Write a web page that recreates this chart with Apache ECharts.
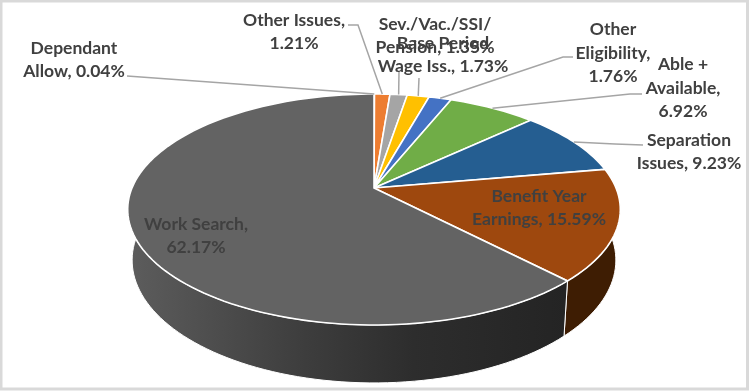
<!DOCTYPE html>
<html>
<head>
<meta charset="utf-8">
<style>
  html, body { margin: 0; padding: 0; background: #fff; }
  #chart { width: 749px; height: 391px; }
</style>
<script src="https://cdn.jsdelivr.net/npm/echarts@6/dist/echarts.min.js"></script>
</head>
<body>
<div id="chart"></div>
<script>
// chart values, clockwise from 12 o'clock
const categories = ["Dependant Allow", "Other Issues", "Sev./Vac./SSI/Pension", "Base Period Wage Iss.", "Other Eligibility", "Able + Available", "Separation Issues", "Benefit Year Earnings", "Work Search"];
const shares = [0.04, 1.21, 1.35, 1.73, 1.76, 6.92, 9.23, 15.59, 62.17];
const labelTexts = [
  "Dependant\nAllow, 0.04%",
  "Other Issues,\n1.21%",
  "Sev./Vac./SSI/\nPension, 1.35%",
  "Base Period\nWage Iss., 1.73%",
  "Other\nEligibility,\n1.76%",
  "Able +\nAvailable,\n6.92%",
  "Separation\nIssues, 9.23%",
  "Benefit Year\nEarnings, 15.59%",
  "Work Search,\n62.17%",
];

// slice colours
const topColors = ["#5b9bd5", "#ed7d31", "#a5a5a5", "#ffc000", "#4472c4", "#70ad47", "#255e91", "#9e480e", "#636363"];
const wallColors = ["#2a4a68", "#76401a", "#535353", "#806000", "#223962", "#385723", "#132f49", "#3e1d03", "#333333"];

// label centres and the elbow of each leader line (none for labels on the pie)
const labelBoxes = [
  { x: 74, y: 60, from: [127, 76] },
  { x: 294, y: 32, from: [348, 25], elbow: [358, 25] },
  { x: 435, y: 36, from: [399, 72] },
  { x: 443, y: 55, from: [419, 78] },
  { x: 613, y: 53, from: [573, 57], elbow: [563, 57] },
  { x: 683, y: 88, from: [642, 94], elbow: [630, 94] },
  { x: 689, y: 152, from: [643, 145], elbow: [615, 144] },
  { x: 539, y: 208 },
  { x: 196, y: 236 },
];

// tilted disc: the polar scale gives a flat circle, this projects it
const centerX = 374;
const centerY = 188;
const radius = 242;
const persp = 0.186;
const tiltY = 111.5;
const baseScaleX = 0.982;
const baseScaleY = 1.063;
const baseCenterY = 237.3;

function project(p, onBase) {
  const u = (p[0] - centerX) / radius;
  const v = (p[1] - centerY) / radius;
  const w = 1 - persp * v;
  if (onBase) {
    return [centerX + baseScaleX * radius * (u / w), baseCenterY + baseScaleY * tiltY * (v / w)];
  }
  return [centerX + radius * (u / w), centerY + tiltY * (v / w)];
}

function arc(api, start, end, onBase) {
  const steps = Math.max(2, Math.ceil((end - start) * 2));
  const pts = [];
  for (let i = 0; i <= steps; i++) {
    const a = start + ((end - start) * i) / steps;
    pts.push(project(api.coord([1, a]), onBase));
  }
  return pts;
}

let sum = 0;
const sliceData = shares.map((v, i) => {
  const row = [1, sum, v, i];
  sum += v;
  return row;
});

const wallGradient = new echarts.graphic.LinearGradient(
  132, 0, 566, 0,
  [
    { offset: 0, color: "#5c5c5c" },
    { offset: 0.4, color: "#3d3d3d" },
    { offset: 0.65, color: "#2d2d2d" },
    { offset: 1, color: "#242424" },
  ],
  true
);

const renderWall = (params, api) => {
  const start = api.value(1);
  const end = start + api.value(2);
  const i = api.value(3);
  const top = arc(api, start, end, false);
  const base = arc(api, start, end, true).reverse();
  return {
    type: "polygon",
    shape: { points: top.concat(base) },
    style: {
      fill: i === shares.length - 1 ? wallGradient : wallColors[i],
      stroke: "#fff",
      lineWidth: 1,
    },
  };
};

const renderTop = (params, api) => {
  const start = api.value(1);
  const end = start + api.value(2);
  const i = api.value(3);
  const apex = project(api.coord([0, start]), false);
  return {
    type: "polygon",
    shape: { points: [apex].concat(arc(api, start, end, false)) },
    style: { fill: topColors[i], stroke: "#fff", lineWidth: 1.6 },
  };
};

const renderLabel = (params, api) => {
  const i = api.value(3);
  const box = labelBoxes[i];
  const children = [];
  if (box.from) {
    const mid = api.value(1) + api.value(2) / 2;
    const rim = project(api.coord([1, mid]), false);
    const points = box.elbow ? [box.from, box.elbow, rim] : [box.from, rim];
    children.push({
      type: "polyline",
      shape: { points },
      style: { fill: "none", stroke: "#a5a5a5", lineWidth: 1.5 },
    });
  }
  children.push({
    type: "text",
    x: box.x,
    y: box.y,
    style: {
      text: labelTexts[i],
      font: "bold 17.5px Lato",
      lineHeight: 23.5,
      fill: "#404040",
      align: "center",
      verticalAlign: "middle",
    },
  });
  return { type: "group", children };
};

const baseSeries = {
  type: "custom",
  coordinateSystem: "polar",
  encode: { radius: 0, angle: 1 },
  silent: true,
  data: sliceData,
};

const chart = echarts.init(document.getElementById("chart"));
chart.setOption({
  animation: false,
  backgroundColor: "#fff",
  polar: { center: [centerX, centerY], radius: radius },
  angleAxis: { type: "value", min: 0, max: 100, startAngle: 90, show: false },
  radiusAxis: { type: "value", min: 0, max: 1, show: false },
  graphic: [
    {
      type: "rect",
      shape: { x: 1, y: 1, width: 746.5, height: 388 },
      style: { fill: "none", stroke: "#d9d9d9", lineWidth: 3 },
      silent: true,
      z: 10,
    },
  ],
  series: [
    { ...baseSeries, name: "wall", z: 1, renderItem: renderWall },
    { ...baseSeries, name: "top", z: 2, renderItem: renderTop },
    { ...baseSeries, name: "labels", z: 3, renderItem: renderLabel },
  ],
});
</script>
</body>
</html>
